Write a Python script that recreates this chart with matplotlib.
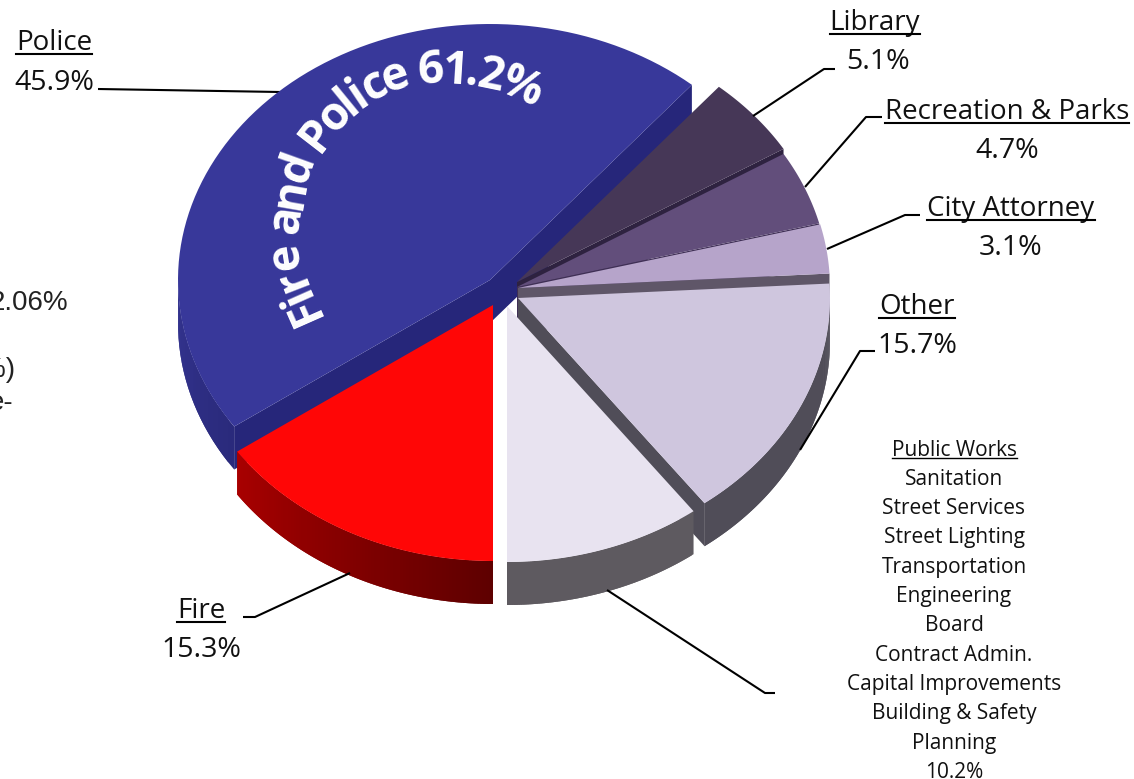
import numpy as np
import matplotlib
matplotlib.use('Agg')
import matplotlib.pyplot as plt
from matplotlib.colors import to_rgb
from matplotlib.patches import Polygon
from matplotlib.textpath import TextPath
from matplotlib.font_manager import FontProperties

# Values, in drawing order round the pie
departments = ['Fire', 'Police', 'Library', 'Recreation & Parks', 'City Attorney', 'Other', 'Public Works']
percents = [15.3, 45.9, 5.1, 4.7, 3.1, 15.7, 10.2]
percent_labels = ['15.3%', '45.9%', '5.1%', '4.7%', '3.1%', '15.7%', '10.2%']
public_works_items = ['Sanitation', 'Street Services', 'Street Lighting', 'Transportation',
                      'Engineering', 'Board', 'Contract Admin.', 'Capital Improvements',
                      'Building & Safety', 'Planning']
banner = 'Fire and Police 61.2%'

W, H = 1134, 779
FONT = 'Open Sans'
RX, RY, DEPTH = 312, 256, 43

# Layout, by department
apex = {'Fire': (493, 305), 'Police': (490, 280), 'Library': (517, 282),
        'Recreation & Parks': (517, 287), 'City Attorney': (518, 288),
        'Other': (518, 298), 'Public Works': (507, 306)}
top_col = {'Fire': '#ff0606', 'Police': '#38389a', 'Library': '#463757',
           'Recreation & Parks': '#624e7b', 'City Attorney': '#b6a4ca',
           'Other': '#cfc6de', 'Public Works': '#e8e3f0'}
rim_col = {'Fire': ('#5e0000', '#a80000'), 'Police': ('#2a2a7c', '#34348f'),
           'Library': ('#2e2240', '#2e2240'), 'Recreation & Parks': ('#3f2f55', '#3f2f55'),
           'City Attorney': ('#5f5668', '#5f5668'), 'Other': ('#504d58', '#504d58'),
           'Public Works': ('#5e5a60', '#5e5a60')}
face_col = {'Police': '#26267a', 'Library': '#2e2240', 'Recreation & Parks': '#3f2f55',
            'City Attorney': '#5f5668', 'Other': '#504d58'}
draw_order = ['Police', 'Library', 'Recreation & Parks', 'City Attorney', 'Other', 'Fire', 'Public Works']

fig = plt.figure(figsize=(W / 100, H / 100), dpi=100)
ax = fig.add_axes([0, 0, 1, 1])
ax.set_xlim(0, W)
ax.set_ylim(H, 0)
ax.axis('off')


def rim_point(name, a):
    cx, cy = apex[name]
    return cx + RX * np.cos(np.radians(a)), cy - RY * np.sin(np.radians(a))


def cut_face(name, a, z):
    # flat side running from the apex to the rim at angle a
    cx, cy = apex[name]
    x, y = rim_point(name, a)
    ax.add_patch(Polygon([(cx, cy), (x, y), (x, y + DEPTH), (cx, cy + DEPTH)],
                         fc=face_col[name], ec='none', zorder=z))


# wedge angles come from the percentages, clockwise from six o'clock
angle_ends = 270 - np.cumsum(percents) * 3.6
angle_starts = np.concatenate([[270], angle_ends[:-1]])

for order, name in enumerate(draw_order):
    i = departments.index(name)
    a0, a1 = angle_starts[i], angle_ends[i]
    z = 2 + order
    if name in face_col:
        cut_face(name, a1, z)
    if name == 'Police':
        cut_face(name, a0, z)
    steps = np.linspace(a0, a1, 90)
    # only the lower half of the rim shows
    rim_steps = steps[np.sin(np.radians(steps)) < 0.02]
    c0, c1 = np.array(to_rgb(rim_col[name][0])), np.array(to_rgb(rim_col[name][1]))
    n = len(rim_steps)
    for k in range(n - 1):
        # each piece overlaps the next so no seams show
        arc = [rim_point(name, a) for a in rim_steps[k:min(k + 3, n)]]
        low = [(p[0], p[1] + DEPTH) for p in arc[::-1]]
        ax.add_patch(Polygon(arc + low, fc=c0 + (c1 - c0) * k / max(n - 2, 1), ec='none', zorder=z))
    pts = [apex[name]] + [rim_point(name, a) for a in steps]
    ax.add_patch(Polygon(pts, fc=top_col[name], ec='none', zorder=z + 0.5))

# leader lines
leaders = [[(98, 89), (280, 92)],
           [(835, 69), (824, 69), (753, 116)],
           [(882, 117), (866, 117), (805, 187)],
           [(920, 215), (905, 215), (827, 249)],
           [(875, 351), (860, 351), (800, 450)],
           [(243, 617), (255, 617), (350, 573)],
           [(775, 693), (765, 693), (607, 590)]]
for line in leaders:
    xs, ys = zip(*line)
    ax.plot(xs, ys, color='black', lw=1.5, zorder=1 if line[0][1] == 89 else 20, solid_capstyle='butt')

renderer = fig.canvas.get_renderer()


def label(text, x, y, size=20, under=None):
    t = ax.text(x, y + 3, text, ha='center', va='center', fontsize=size, family=FONT, color='#111111', zorder=30)
    if under is not None:
        box = t.get_window_extent(renderer)
        ax.plot([box.x0, box.x1], [y + under, y + under], color='black', lw=1.5 if size > 15 else 1, zorder=30)


label_pos = {'Police': ((54, 40), (54, 80)), 'Library': ((875, 20), (878, 59)),
             'Recreation & Parks': ((1007, 109), (1007, 148)), 'City Attorney': ((1011, 206), (1011, 245)),
             'Other': ((917, 304), (917, 343)), 'Fire': ((201, 608), (201, 647))}
for name, (head, val) in label_pos.items():
    label(name, head[0], head[1], under=14)
    label(percent_labels[departments.index(name)], val[0], val[1], size=20.5)

# public works block
list_y = 447
label('Public Works', 954, list_y, size=15, under=11)
for k, item in enumerate(public_works_items):
    label(item, 954, list_y + 29.3 * (k + 1), size=15)
label(percent_labels[-1], 954, list_y + 29.3 * 11, size=15)

# text cut off by the left edge of the picture
ax.text(68, 303, '2.06%', ha='right', va='center', fontsize=20, family='Liberation Sans', color='#222222')
ax.text(15, 370, '%)', ha='right', va='center', fontsize=20, family='Liberation Sans', color='#222222')
ax.text(13, 403, 'e-', ha='right', va='center', fontsize=20, family='Liberation Sans', color='#222222')

# banner curved along the top of the police wedge
baseline = np.array([(321, 315), (298, 263), (297, 233), (308, 170), (320, 152), (340, 127),
                     (357, 110), (377, 98), (407, 85), (453, 82), (503, 92), (537, 108), (560, 122)], float)
seg = np.hypot(*np.diff(baseline, axis=0).T)
dist = np.concatenate([[0], np.cumsum(seg)])
fp = FontProperties(family=FONT, weight='bold', size=33)


def along(s):
    return np.interp(s, dist, baseline[:, 0]), np.interp(s, dist, baseline[:, 1])


pen = 0.0
scale = 100 / 72
tracking = 0.875
xx = TextPath((0, 0), 'xx', prop=fp).get_extents().width
for ch in banner:
    adv = (TextPath((0, 0), 'x' + ch + 'x', prop=fp).get_extents().width - xx) * scale * tracking
    mid = pen + adv / 2
    x0, y0 = along(mid - 18)
    x1, y1 = along(mid + 18)
    rot = np.degrees(np.arctan2(-(y1 - y0), x1 - x0))
    x, y = along(pen)
    ax.text(x, y, ch, rotation=rot, rotation_mode='anchor', ha='left', va='baseline',
            fontproperties=fp, color='white', zorder=40)
    pen += adv

fig.savefig('out.png', dpi=100, facecolor='white')
